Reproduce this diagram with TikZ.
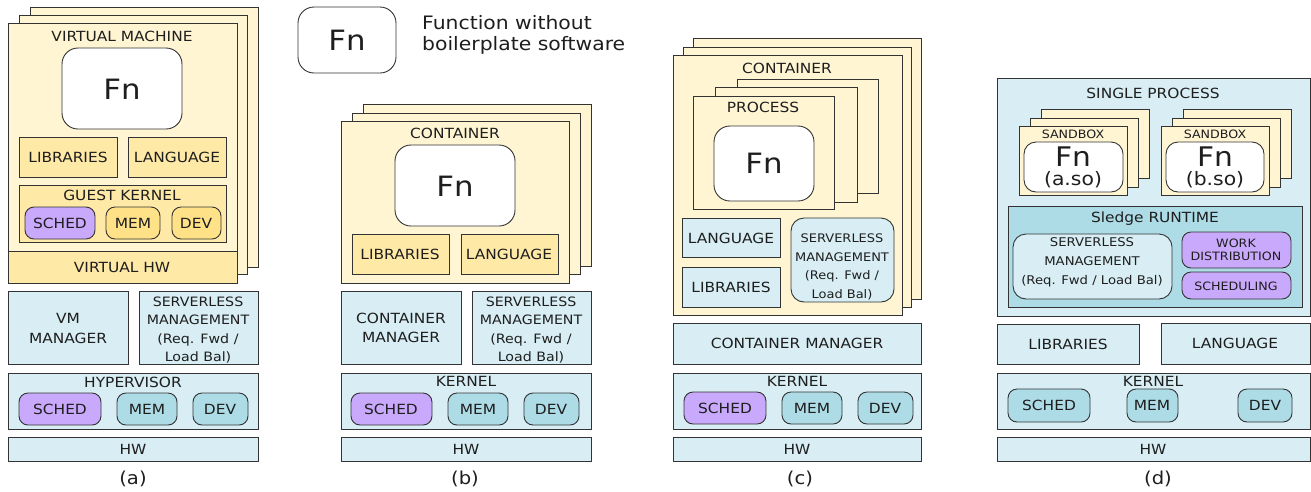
\documentclass[tikz,border=0pt]{standalone}
\usepackage{fontspec}
\setmainfont{DejaVu Sans}[FakeStretch=1.1]
\definecolor{edge}{HTML}{333333}
\definecolor{txt}{HTML}{1E1E1E}
\definecolor{pageY}{HTML}{FFF5D3}
\definecolor{libY}{HTML}{FFE9A6}
\definecolor{memY}{HTML}{FFE287}
\definecolor{lblue}{HTML}{D8EEF4}
\definecolor{mblue}{HTML}{ADDCE7}
\definecolor{purp}{HTML}{C9A9FB}
\newcommand\bx[6]{\node[#1,anchor=north west,minimum width={(#5-#3)*1pt},minimum height={(#6-#4)*1pt}] (#2) at (#3,#4) {};}
\newcommand\tx[5]{\node[lab,#1] (#2) at (#3,#4) {#5};}
\tikzset{
  bd/.style={draw=edge, line width=0.9pt, inner sep=0pt, outer sep=0pt},
  page/.style={bd, fill=pageY},
  ylw/.style={bd, fill=libY},
  ymem/.style={bd, fill=memY, rounded corners=9pt},
  blu/.style={bd, fill=lblue},
  bluR/.style={bd, fill=lblue, rounded corners=13pt},
  mblu/.style={bd, fill=mblue},
  mbluR/.style={bd, fill=mblue, rounded corners=9pt},
  purR/.style={bd, fill=purp, rounded corners=9pt},
  fnbox/.style={bd, fill=white, rounded corners=16pt},
  fnsm/.style={bd, fill=white, rounded corners=12pt},
  lab/.style={inner sep=0pt, text=txt, font=\fontsize{14}{17}\selectfont, align=center},
  big/.style={font=\fontsize{28}{30}\selectfont},
  bigs/.style={font=\fontsize{27}{29}\selectfont},
  sv/.style={font=\fontsize{12.9}{18.5}\selectfont},
  svc/.style={font=\fontsize{11.8}{18.7}\selectfont},
  svd/.style={font=\fontsize{12}{19}\selectfont},
  sm/.style={font=\fontsize{11.5}{13}\selectfont},
  captxt/.style={font=\fontsize{17.8}{20}\selectfont},
  leg/.style={font=\fontsize{18.5}{20.5}\selectfont, align=left},
  so/.style={font=\fontsize{18.5}{20}\selectfont},
}
\begin{document}
\begin{tikzpicture}[x=1pt,y=-1pt]
\useasboundingbox (0,0) rectangle (1311,491);
% ---------------- panel (a)
\bx{page}{pa3}{30}{7}{258}{267}
\bx{page}{pa2}{19}{15}{247}{274}
\bx{page}{pa1}{8}{23}{237}{283}
\tx{}{tvm}{122}{36}{VIRTUAL MACHINE}
\bx{fnbox}{fna}{62}{48}{182}{129}
\tx{big}{tfna}{122}{89}{Fn}
\bx{ylw}{liba}{19}{137}{117}{177}
\tx{}{tliba}{68}{157}{LIBRARIES}
\bx{ylw}{langa}{128}{137}{226}{177}
\tx{}{tlanga}{177}{157}{LANGUAGE}
\bx{ylw}{gk}{19}{185}{226}{242}
\tx{}{tgk}{122}{195}{GUEST KERNEL}
\bx{purR}{gsched}{25}{207}{95}{239}
\tx{}{tgsched}{60}{223}{SCHED}
\bx{ymem}{gmem}{106}{207}{160}{239}
\tx{}{tgmem}{133}{223}{MEM}
\bx{ymem}{gdev}{172}{207}{221}{239}
\tx{}{tgdev}{196}{223}{DEV}
\bx{ylw}{vhw}{8}{251}{237}{283}
\tx{}{tvhw}{122}{267}{VIRTUAL HW}
\bx{blu}{vmm}{8}{291}{128}{364}
\tx{font=\fontsize{14}{20}\selectfont}{tvmm}{68}{328}{VM\\MANAGER}
\bx{blu}{slma}{139}{291}{258}{364}
\tx{sv}{tslma}{198}{330}{SERVERLESS\\MANAGEMENT\\(Req. Fwd /\\Load Bal)}
\bx{blu}{hyp}{8}{373}{258}{429}
\tx{}{thyp}{133}{382}{HYPERVISOR}
\bx{purR}{scha}{19}{393}{101}{425}
\tx{}{tscha}{60}{409}{SCHED}
\bx{mbluR}{mema}{117}{393}{177}{425}
\tx{}{tmema}{147}{409}{MEM}
\bx{mbluR}{deva}{193}{393}{248}{425}
\tx{}{tdeva}{220}{409}{DEV}
\bx{blu}{hwa}{8}{437}{258}{461}
\tx{}{thwa}{133}{449}{HW}
\tx{captxt}{capa}{133}{479}{(a)}
% ---------------- legend
\bx{fnbox}{fnleg}{298}{7}{396}{73}
\tx{big}{tfnleg}{347}{40}{Fn}
\node[lab,leg,anchor=west] (tleg) at (422,35) {Function without\\boilerplate software};
% ---------------- panel (b)
\bx{page}{pb3}{363}{104}{591}{266}
\bx{page}{pb2}{352}{113}{580}{274}
\bx{page}{pb1}{341}{121}{569}{283}
\tx{}{tcb}{455}{133}{CONTAINER}
\bx{fnbox}{fnb}{395}{145}{515}{226}
\tx{big}{tfnb}{455}{186}{Fn}
\bx{ylw}{libb}{352}{234}{449}{274}
\tx{}{tlibb}{400}{254}{LIBRARIES}
\bx{ylw}{langb}{461}{234}{558}{274}
\tx{}{tlangb}{509}{254}{LANGUAGE}
\bx{blu}{cmb}{341}{291}{461}{364}
\tx{font=\fontsize{14}{19}\selectfont}{tcmb}{401}{328}{CONTAINER\\MANAGER}
\bx{blu}{slmb}{472}{291}{591}{364}
\tx{sv}{tslmb}{531}{330}{SERVERLESS\\MANAGEMENT\\(Req. Fwd /\\Load Bal)}
\bx{blu}{kb}{341}{373}{591}{429}
\tx{}{tkb}{466}{381}{KERNEL}
\bx{purR}{schb}{351}{393}{432}{425}
\tx{}{tschb}{391}{409}{SCHED}
\bx{mbluR}{memb}{448}{393}{508}{425}
\tx{}{tmemb}{478}{409}{MEM}
\bx{mbluR}{devb}{524}{393}{579}{425}
\tx{}{tdevb}{551}{409}{DEV}
\bx{blu}{hwb}{341}{437}{591}{461}
\tx{}{thwb}{466}{449}{HW}
\tx{captxt}{capb}{465}{479}{(b)}
% ---------------- panel (c)
\bx{page}{pc3}{693}{38}{921}{299}
\bx{page}{pc2}{683}{47}{911}{307}
\bx{page}{pc1}{673}{55}{902}{315}
\tx{}{tcc}{787}{68}{CONTAINER}
\bx{page}{pp3}{737}{79}{878}{193}
\bx{page}{pp2}{715}{87}{857}{202}
\bx{page}{pp1}{693}{96}{834}{209}
\tx{}{tpp}{763}{107}{PROCESS}
\bx{fnbox}{fnc}{714}{126}{814}{201}
\tx{big}{tfnc}{764}{163}{Fn}
\bx{blu}{langc}{682}{218}{780}{257}
\tx{}{tlangc}{731}{238}{LANGUAGE}
\bx{blu}{libc}{682}{267}{780}{307}
\tx{}{tlibc}{731}{287}{LIBRARIES}
\bx{bluR}{slmc}{791}{218}{894}{302}
\tx{svc}{tslmc}{842}{267}{SERVERLESS\\MANAGEMENT\\(Req. Fwd /\\Load Bal)}
\bx{blu}{cmc}{673}{323}{921}{364}
\tx{}{tcmc}{797}{343}{CONTAINER MANAGER}
\bx{blu}{kc}{673}{373}{921}{429}
\tx{}{tkc}{797}{381}{KERNEL}
\bx{purR}{schc}{684}{392}{766}{424}
\tx{}{tschc}{725}{408}{SCHED}
\bx{mbluR}{memc}{782}{392}{842}{424}
\tx{}{tmemc}{812}{408}{MEM}
\bx{mbluR}{devc}{858}{392}{913}{424}
\tx{}{tdevc}{885}{408}{DEV}
\bx{blu}{hwc}{673}{437}{921}{461}
\tx{}{thwc}{797}{449}{HW}
\tx{captxt}{capc}{800}{479}{(c)}
% ---------------- panel (d)
\bx{blu}{sp}{997}{78}{1310}{316}
\tx{}{tsp}{1153}{93}{SINGLE PROCESS}
\bx{page}{sl3}{1041}{109}{1149}{178}
\bx{page}{sl2}{1030}{118}{1138}{187}
\bx{page}{sl1}{1019}{126}{1127}{195}
\tx{sm}{tsl}{1073}{134}{SANDBOX}
\bx{fnsm}{fnl}{1024}{142}{1123}{192}
\tx{bigs}{tfnl}{1073}{157}{Fn}
\tx{so}{tsol}{1073}{179.5}{(a.so)}
\bx{page}{sr3}{1183}{109}{1291}{178}
\bx{page}{sr2}{1172}{118}{1280}{187}
\bx{page}{sr1}{1161}{126}{1269}{195}
\tx{sm}{tsr}{1215}{134}{SANDBOX}
\bx{fnsm}{fnr}{1166}{142}{1264}{192}
\tx{bigs}{tfnr}{1215}{157}{Fn}
\tx{so}{tsor}{1215}{179.5}{(b.so)}
\bx{mblu}{rt}{1008}{206}{1302}{307}
\tx{}{trt}{1155}{219}{Sledge RUNTIME}
\bx{bluR}{slmd}{1013}{234}{1172}{299}
\tx{svd}{tslmd}{1092}{262}{SERVERLESS\\MANAGEMENT\\(Req. Fwd / Load Bal)}
\bx{purR}{wd}{1182}{232}{1291}{268}
\tx{sm}{twd}{1236}{250}{WORK\\DISTRIBUTION}
\bx{purR}{scd}{1182}{272}{1291}{299}
\tx{sm}{tscd}{1236}{286}{SCHEDULING}
\bx{blu}{libd}{997}{324}{1139}{364}
\tx{}{tlibd}{1068}{344}{LIBRARIES}
\bx{blu}{langd}{1161}{323}{1310}{364}
\tx{}{tlangd}{1235}{343}{LANGUAGE}
\bx{blu}{kd}{997}{373}{1310}{429}
\tx{}{tkd}{1153}{381}{KERNEL}
\bx{mbluR}{schd}{1008}{389}{1090}{422}
\tx{}{tschd}{1049}{405}{SCHED}
\bx{mbluR}{memd}{1127}{389}{1178}{422}
\tx{}{tmemd}{1152}{405}{MEM}
\bx{mbluR}{devd}{1238}{389}{1292}{422}
\tx{}{tdevd}{1265}{405}{DEV}
\bx{blu}{hwd}{997}{437}{1310}{461}
\tx{}{thwd}{1153}{449}{HW}
\tx{captxt}{capd}{1158}{479}{(d)}
\end{tikzpicture}
\end{document}
